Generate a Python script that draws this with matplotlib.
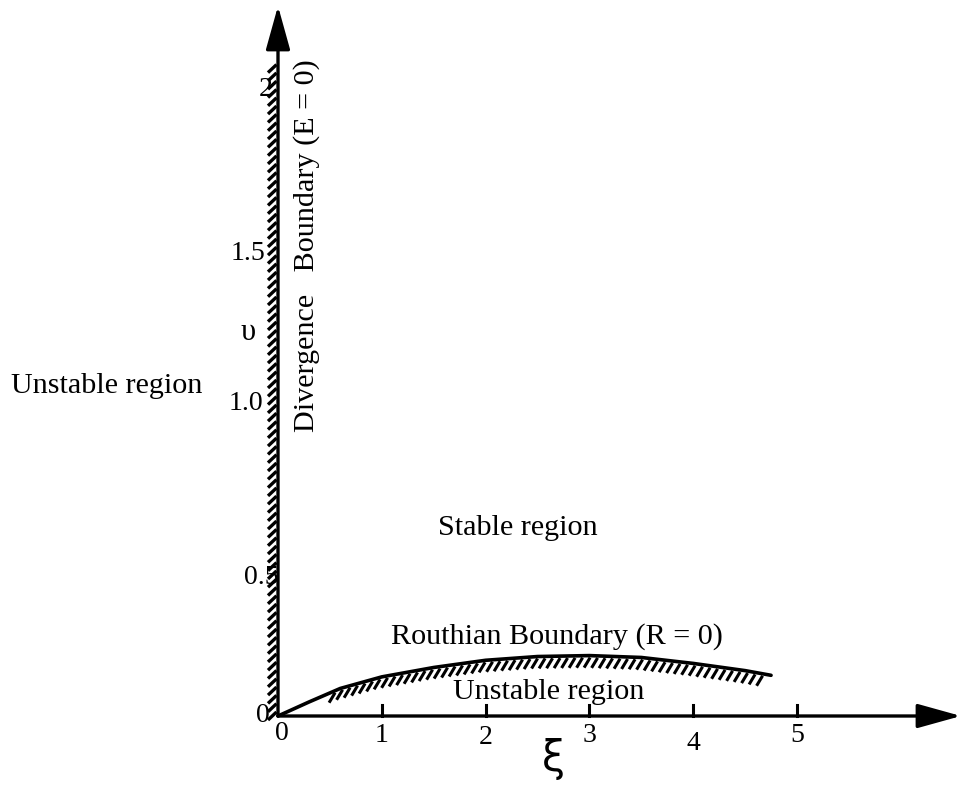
import numpy as np
import matplotlib.pyplot as plt
from matplotlib.collections import LineCollection

plt.rcParams['font.family'] = ['Liberation Serif', 'DejaVu Serif']

# Routhian boundary (R = 0)
xi_pts = [0, 0.3, 0.6, 1.0, 1.5, 2.0, 2.5, 3.0, 3.5, 4.0, 4.5, 4.75]
nu_pts = [0, 0.045, 0.088, 0.125, 0.155, 0.178, 0.19, 0.193, 0.187, 0.168, 0.145, 0.13]

# divergence boundary along the nu axis
div_top = 2.1

x_ticks = [1, 2, 3, 4, 5]
x_tick_labels = ["1", "2", "3", "4", "5"]
y_tick_vals = [0, 0.5, 1.0, 1.5, 2]
y_tick_labels = ["0", "0.5", "1.0", "1.5", "2"]

W, H = 962, 785
ox, oy = 278, 716          # origin in pixels
sx, sy = 103.8, 313.0      # pixels per unit

fig = plt.figure(figsize=(W / 100, H / 100), dpi=100)
ax = fig.add_axes([0, 0, 1, 1])
ax.set_xlim(-ox / sx, (W - ox) / sx)
ax.set_ylim(-(H - oy) / sy, oy / sy)
ax.axis("off")

# axes with arrow heads
arrow = dict(arrowstyle="-|>,head_length=1.8,head_width=0.5", lw=2.4,
             color="black", mutation_scale=15, shrinkA=0, shrinkB=0)
ax.annotate("", xy=(0, (oy - 6) / sy), xytext=(0, 0), arrowprops=arrow)
ax.annotate("", xy=((W - ox - 1) / sx, 0), xytext=(0, 0), arrowprops=arrow)

# x ticks
for t in x_ticks:
    ax.plot([t, t], [0, 11 / sy], color="black", lw=2.2)
x_lab_dy = [20, 22, 20, 27, 20]
for t, lab, d in zip(x_ticks, x_tick_labels, x_lab_dy):
    ax.text(t, -d / sy, lab, ha="center", va="center", fontsize=20)
ax.text(4 / sx, -18 / sy, "0", ha="center", va="center", fontsize=20)

# y tick labels (pixel offsets)
y_lab_pos = [(-15, 716), (-17, 578), (-32, 404), (-30, 253), (-12, 90)]
for lab, (dx, py) in zip(y_tick_labels, y_lab_pos):
    ax.text(dx / sx, (oy - py) / sy, lab, ha="center", va="center", fontsize=20)

# hatching along the nu axis
ys = np.arange(4 / sy, div_top, 8.3 / sy)
segs = [[(-1.5 / sx, y), (-10 / sx, y - 8 / sy)] for y in ys]
ax.add_collection(LineCollection(segs, colors="black", linewidths=2.4))

# Routhian boundary and its hatching
ax.plot(xi_pts, nu_pts, color="black", lw=2.6, solid_capstyle="round")
hx = np.arange(0.55, 4.72, 7.5 / sx)
hy = np.interp(hx, xi_pts, nu_pts)
segs = [[(x, y - 2 / sy), (x - 6 / sx, y - 12 / sy)] for x, y in zip(hx, hy)]
ax.add_collection(LineCollection(segs, colors="black", linewidths=2.2))

# labels
fs = 21.7
ax.text((107 - ox) / sx, (oy - 386) / sy, "Unstable region", ha="center", va="center", fontsize=fs)
ax.text((307 - ox) / sx, (oy - 246) / sy, "Divergence   Boundary (E = 0)", rotation=90,
        ha="center", va="center", fontsize=fs)
ax.text((248 - ox) / sx, (oy - 332) / sy, "\u03c5", ha="center", va="center", fontsize=22)
ax.text((518 - ox) / sx, (oy - 528) / sy, "Stable region", ha="center", va="center", fontsize=fs)
ax.text((557 - ox) / sx, (oy - 637) / sy, "Routhian Boundary (R = 0)", ha="center", va="center", fontsize=fs)
ax.text((549 - ox) / sx, (oy - 692) / sy, "Unstable region", ha="center", va="center", fontsize=fs)
ax.text((553 - ox) / sx, (oy - 759) / sy, "\u03be", ha="center", va="center", fontsize=30,
        family="DejaVu Sans")

fig.savefig("out.png", dpi=100)
